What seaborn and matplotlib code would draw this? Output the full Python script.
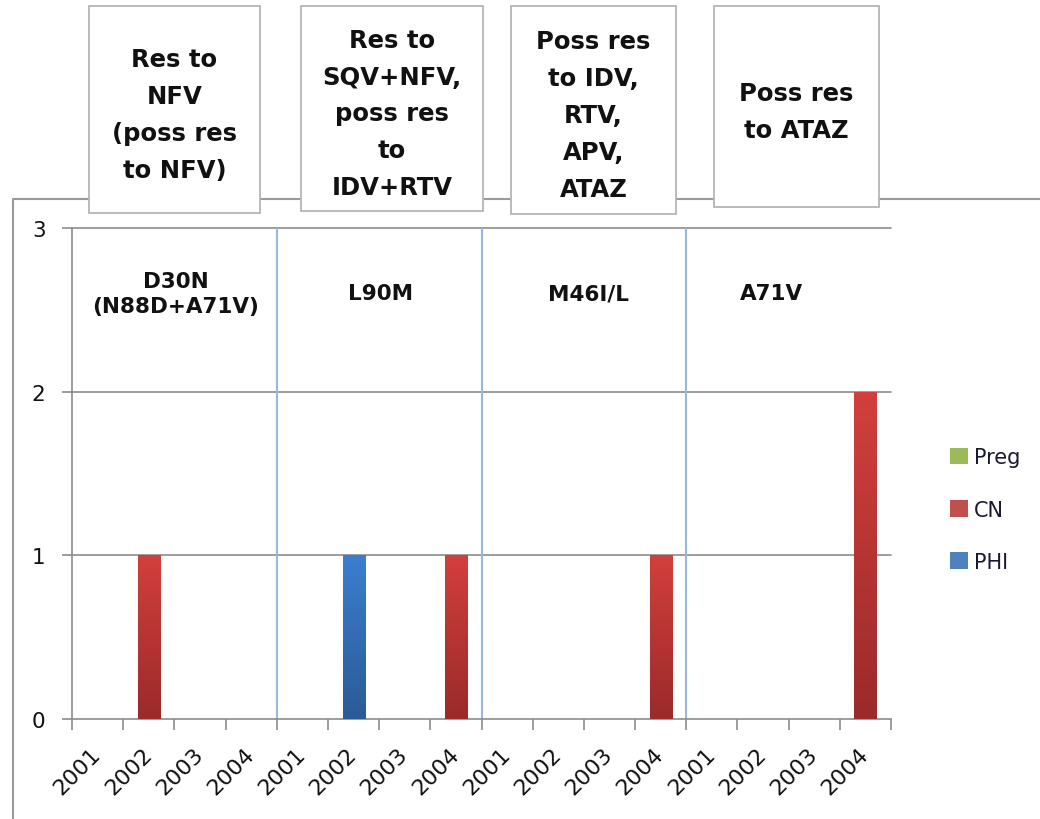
import numpy as np
import pandas as pd
import matplotlib
matplotlib.use("Agg")
import matplotlib.pyplot as plt
import matplotlib.colors as mcolors
from matplotlib.patches import Rectangle, Patch
from matplotlib.lines import Line2D
import seaborn as sns

# ── Data ──────────────────────────────────────────────────────────────────────
YEARS      = ["2001", "2002", "2003", "2004"]
MUTATIONS  = ["D30N\n(N88D+A71V)", "L90M", "M46I/L", "A71V"]
RESISTANCE = ["Res to\nNFV\n(poss res\nto NFV)",
              "Res to\nSQV+NFV,\nposs res\nto\nIDV+RTV",
              "Poss res\nto IDV,\nRTV,\nAPV,\nATAZ",
              "Poss res\nto ATAZ"]
SERIES = ["Preg", "CN", "PHI"]
PREG = [0, 0, 0, 0,  0, 0, 0, 0,  0, 0, 0, 0,  0, 0, 0, 0]
CN   = [0, 1, 0, 0,  0, 0, 0, 1,  0, 0, 0, 1,  0, 0, 0, 2]
PHI  = [0, 0, 0, 0,  0, 1, 0, 0,  0, 0, 0, 0,  0, 0, 0, 0]

# ── Style ─────────────────────────────────────────────────────────────────────
COLORS = {"Preg": "#9bbb59", "CN": "#c0504d", "PHI": "#4f81bd"}
GRAD   = {"Preg": ("#a8cf62", "#779a3a"),
          "CN":   ("#d23f3c", "#9a2b2a"),
          "PHI":  ("#3b7ed0", "#2b5b96")}
GRID   = "#8c8c8c"
W, H   = 1040, 820

sns.set_theme(style="white")
plt.rcParams["font.family"] = ["DejaVu Sans"]

slots = [f"{g}-{y}" for g in range(4) for y in YEARS]
df = pd.DataFrame({
    "slot":   slots * 3,
    "series": ["Preg"] * 16 + ["CN"] * 16 + ["PHI"] * 16,
    "value":  PREG + CN + PHI,
})

fig = plt.figure(figsize=(W / 100, H / 100), dpi=100)
ax = fig.add_axes([72 / W, 1 - 720 / H, (891 - 72) / W, (720 - 229) / H])

sns.barplot(data=df, x="slot", y="value", hue="series", hue_order=SERIES,
            order=slots, palette=COLORS, dodge=False, width=0.43,
            saturation=1, legend=False, ax=ax, zorder=3)

# vertical gradient on each bar
for p in list(ax.patches):
    p.set_edgecolor("none")
    p.set_linewidth(0)
    h = p.get_height()
    if h <= 0:
        continue
    fc = mcolors.to_hex(p.get_facecolor(), keep_alpha=False)
    name = [k for k, v in COLORS.items() if v == fc][0]
    cmap = mcolors.LinearSegmentedColormap.from_list(name, [GRAD[name][1], GRAD[name][0]])
    grad = np.linspace(0, 1, 100).reshape(-1, 1)
    x0, w = p.get_x(), p.get_width()
    im = ax.imshow(grad, extent=[x0, x0 + w, 0, h], origin="lower",
                   aspect="auto", cmap=cmap, zorder=4)
    im.set_clip_path(p)

ax.set_xlim(-0.5, 15.5)
ax.set_ylim(0, 3)
ax.set_yticks([0, 1, 2, 3])
ax.set_xlabel("")
ax.set_ylabel("")

# gridlines
for yv in [1, 2, 3]:
    ax.axhline(yv, color=GRID, lw=1.2, zorder=1, clip_on=False)

# group separators
for xv in [3.5, 7.5, 11.5]:
    ax.axvline(xv, color="#9ab7df", lw=1.5, zorder=2)

for s in ["top", "right"]:
    ax.spines[s].set_visible(False)
for s in ["left", "bottom"]:
    ax.spines[s].set_color(GRID)
    ax.spines[s].set_linewidth(1.2)

ax.set_xticks(range(16))
ax.set_xticklabels(YEARS * 4, fontsize=16, color="#111111")
ax.set_xticks(np.arange(-0.5, 16, 1), minor=True)
ax.tick_params(axis="x", which="major", length=0, pad=23, bottom=False)
ax.tick_params(axis="x", which="minor", length=8, width=1.2, color=GRID, bottom=True)
ax.tick_params(axis="y", length=7, width=1.2, color=GRID, pad=12, left=True,
               labelsize=15.5, labelcolor="#111111")
for lab in ax.get_xticklabels():
    lab.set_rotation(45)
    lab.set_ha("right")
    lab.set_va("center")
    lab.set_rotation_mode("anchor")

# mutation labels inside the plot
MUT_X = [1.53, 5.53, 9.6, 13.17]
for xv, txt in zip(MUT_X, MUTATIONS):
    ax.text(xv, 2.6, txt, ha="center", va="center", fontsize=15.5,
            fontweight="bold", color="#111111", linespacing=1.3, zorder=5)

# outer frame
fig.add_artist(Line2D([13 / W, 13 / W, 1.0], [0, 1 - 200 / H, 1 - 200 / H],
                      transform=fig.transFigure, color="#9a9a9a", lw=1.5, zorder=1))

# top boxes
BOXES = [(89, 7, 260, 214), (301, 7, 483, 212), (511, 7, 676, 215), (714, 7, 879, 208)]
for (x0, y0, x1, y1), txt in zip(BOXES, RESISTANCE):
    fig.add_artist(Rectangle((x0 / W, 1 - y1 / H), (x1 - x0) / W, (y1 - y0) / H,
                             transform=fig.transFigure, facecolor="white",
                             edgecolor="#b5b5b5", lw=1.3, zorder=2))
    fig.text((x0 + x1) / 2 / W, 1 - ((y0 + y1) / 2 + 5) / H, txt,
             ha="center", va="center", fontsize=17.5, fontweight="bold",
             color="#111111", linespacing=1.68, zorder=3)

# legend
handles = [Patch(facecolor=COLORS[s], edgecolor="none") for s in SERIES]
leg = fig.legend(handles, SERIES, loc="upper left",
                 bbox_to_anchor=(942 / W, 1 - 440 / H), frameon=False,
                 fontsize=15, handlelength=0.85, handleheight=0.85,
                 handletextpad=0.3, labelspacing=1.55, borderaxespad=0)
for t in leg.get_texts():
    t.set_color("#1a1a2e")

plt.savefig("out.png", dpi=100)
